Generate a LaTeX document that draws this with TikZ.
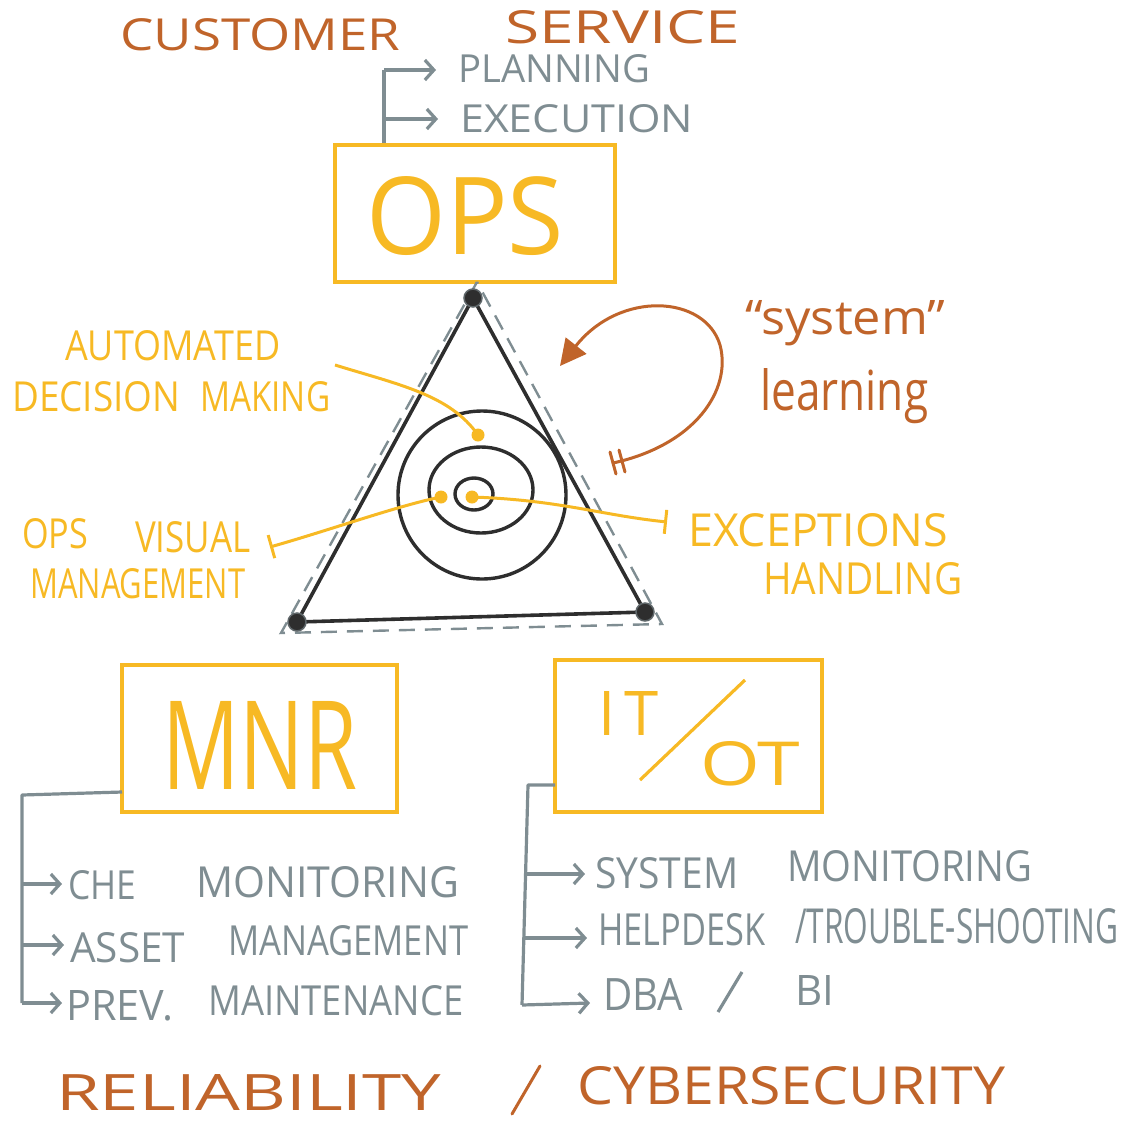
\documentclass[tikz,border=0pt]{standalone}
\usepackage{fontspec}
\setmainfont{Open Sans}
\usepackage{graphicx}
\usetikzlibrary{arrows.meta}
\definecolor{brn}{HTML}{C0642A}
\definecolor{ylw}{HTML}{F7B924}
\definecolor{gry}{HTML}{7F8D92}
\definecolor{blk}{HTML}{2E2E2E}
\newcommand{\fitt}[3]{\resizebox{#1pt}{#2pt}{#3}}
\newcommand{\fith}[2]{\resizebox{!}{#1pt}{#2}}
\tikzset{
  txt/.style={inner sep=0pt, anchor=north west},
  ybox/.style={draw=ylw, line width=3.2pt},
  gline/.style={draw=gry, line width=3.2pt},
  garrow/.style={gline, -{Straight Barb[length=9pt,width=20pt]}},
  yline/.style={draw=ylw, line width=3pt},
  ybar/.style={yline, -{Bar[width=24pt]}},
  tri/.style={draw=blk, line width=3.6pt, line join=round},
  dtri/.style={draw=gry, line width=2.4pt, dash pattern=on 16pt off 10pt},
  ring/.style={draw=blk, line width=3.4pt},
  vdot/.style={fill=blk, draw=gry!60!blk, line width=1.5pt},
  ydot/.style={fill=ylw},
  bline/.style={draw=brn, line width=3pt, line cap=round}
}
\begin{document}
\begin{tikzpicture}[x=1pt,y=-1pt]
\useasboundingbox (0,0) rectangle (1124,1120);

% ---------- top titles ----------
\node[txt,text=brn] (customer) at (120,18) {\fitt{280}{32}{CUSTOMER}};
\node[txt,text=brn] (service) at (505,10) {\fitt{235}{33}{SERVICE}};

% ---------- OPS ----------
\node[txt,text=gry] (planning) at (458,54) {\fitt{192}{28}{PLANNING}};
\node[txt,text=gry] (execution) at (460,104) {\fitt{233}{28}{EXECUTION}};
\draw[ybox] (335,145) rectangle (615,282);
\node[txt,text=ylw] (ops) at (366,176) {\fitt{198}{78}{OPS}};
\coordinate (opsb) at (384,143);
\coordinate (opst) at (384,70);
\coordinate (opsm) at (384,119);
\draw[gline] (opsb) -- (opst);
\draw[garrow] (opst) -- (436,70);
\draw[garrow] (opsm) -- (438,119);

% ---------- triangle ----------
\coordinate (ta) at (473,298);
\coordinate (tb) at (297,622);
\coordinate (tc) at (645,612);
\coordinate (da) at (477,282);
\coordinate (db) at (281,633);
\coordinate (dc) at (662,624);
\draw[dtri] (da) -- (db) -- (dc) -- cycle;
\draw[tri] (ta) -- (tb) -- (tc) -- cycle;
\foreach \p in {ta,tb,tc} \filldraw[vdot] (\p) circle (9pt);

% rings
\coordinate (cc) at (482,495);
\draw[ring] (cc) circle (84pt);
\draw[ring] (481,490) ellipse (52pt and 43pt);
\draw[ring] (474,494) ellipse (19pt and 16pt);

% yellow dots
\coordinate (y1) at (478,435);
\coordinate (y2) at (441,497);
\coordinate (y3) at (472,497);
\foreach \p in {y1,y2,y3} \fill[ydot] (\p) circle (6.5pt);

% ---------- yellow labels ----------
\node[txt,text=ylw] (auto) at (65,330) {\fitt{215}{30}{AUTOMATED}};
\node[txt,text=ylw] (decision) at (12,381) {\fitt{168}{30}{DECISION}};
\node[txt,text=ylw] (making) at (200,381) {\fitt{130}{30}{MAKING}};
\node[txt,text=ylw] (opsv) at (22,518) {\fitt{66}{30}{OPS}};
\node[txt,text=ylw] (visual) at (135,521) {\fitt{115}{31}{VISUAL}};
\node[txt,text=ylw] (manag) at (30,568) {\fitt{215}{30}{MANAGEMENT}};
\node[txt,text=ylw] (except) at (688,513) {\fitt{260}{33}{EXCEPTIONS}};
\node[txt,text=ylw] (handl) at (763,562) {\fitt{199}{32}{HANDLING}};

\coordinate (la) at (335,365);
\coordinate (lb) at (270,547);
\coordinate (lc) at (667,522);
\draw[yline] (la) .. controls (400,385) and (450,395) .. (y1);
\draw[ybar] (y2) .. controls (400,505) and (330,530) .. (lb);
\draw[ybar] (y3) .. controls (560,500) and (600,515) .. (lc);

% ---------- system learning ----------
\node[txt,text=brn] (system) at (745,300) {\fitt{200}{34}{“system”}};
\node[txt,text=brn] (learning) at (760,368) {\fitt{168}{42}{learning}};
\coordinate (lt) at (613,463);
\coordinate (lh) at (560,366);
\draw[bline, -{Triangle[length=26pt,width=26pt]}]
  (lt) .. controls (695,445) and (732,390) .. (720,345) .. controls (705,295) and (620,290) .. (lh);
\coordinate (k1a) at (610,452);
\coordinate (k1b) at (616,474);
\coordinate (k2a) at (619,450);
\coordinate (k2b) at (625,472);
\draw[bline] (k1a) -- (k1b);
\draw[bline] (k2a) -- (k2b);

% ---------- MNR ----------
\draw[ybox] (122,665) rectangle (397,812);
\node[txt,text=ylw] (mnr) at (162,701) {\fitt{195}{88}{MNR}};
\coordinate (m0) at (122,792);
\coordinate (m1) at (22,795);
\coordinate (m4) at (22,1003);
\draw[gline, line join=round] (m0) -- (m1) -- (m4);
\node[txt,text=gry] (che) at (68,870) {\fitt{68}{29}{CHE}};
\node[txt,text=gry] (chem) at (196,866) {\fitt{263}{31}{MONITORING}};
\node[txt,text=gry] (asset) at (70,932) {\fitt{115}{30}{ASSET}};
\node[txt,text=gry] (assetm) at (228,925) {\fitt{240}{30}{MANAGEMENT}};
\node[txt,text=gry] (prev) at (66,990) {\fitt{107}{30}{PREV.}};
\node[txt,text=gry] (prevm) at (208,985) {\fitt{255}{30}{MAINTENANCE}};
\draw[garrow] (22,884) -- (62,884);
\draw[garrow] (22,945) -- (64,945);
\draw[garrow] (m4) -- (62,1003);

% ---------- IT/OT ----------
\draw[ybox] (555,660) rectangle (822,812);
\node[txt,text=ylw] (iti) at (598,691) {\fith{44}{I}};
\node[txt,text=ylw] (itt) at (624,691) {\fith{44}{T}};
\node[txt,text=ylw] (ot) at (700,741) {\fitt{100}{44}{OT}};
\coordinate (sl1) at (640,780);
\coordinate (sl2) at (745,680);
\draw[draw=ylw, line width=3.2pt] (sl1) -- (sl2);
\coordinate (i0) at (555,785);
\coordinate (i1) at (528,785);
\coordinate (i4) at (522,1005);
\draw[gline, line join=round] (i0) -- (i1) -- (i4);
\node[txt,text=gry] (sys) at (595,857) {\fitt{143}{31}{SYSTEM}};
\node[txt,text=gry] (sysm) at (787,850) {\fitt{245}{31}{MONITORING}};
\node[txt,text=gry] (help) at (598,913) {\fitt{167}{32}{HELPDESK}};
\node[txt,text=gry] (helpt) at (795,908) {\fitt{323}{35}{/TROUBLE-SHOOTING}};
\node[txt,text=gry] (dba) at (603,978) {\fitt{80}{32}{DBA}};
\node[txt,text=gry] (bib) at (795,975) {\fith{30}{B}};
\node[txt,text=gry] (bii) at (822,975) {\fith{30}{I}};
\coordinate (bs1) at (718,1012);
\coordinate (bs2) at (742,972);
\draw[gline] (bs1) -- (bs2);
\draw[garrow] (526,874) -- (585,874);
\draw[garrow] (524,938) -- (587,938);
\draw[garrow] (i4) -- (590,1003);

% ---------- bottom ----------
\node[txt,text=brn] (rel) at (56,1074) {\fitt{385}{36}{RELIABILITY}};
\coordinate (rs1) at (512,1114);
\coordinate (rs2) at (540,1066);
\draw[bline] (rs1) -- (rs2);
\node[txt,text=brn] (cyber) at (577,1066) {\fitt{428}{38}{CYBERSECURITY}};
\end{tikzpicture}
\end{document}
